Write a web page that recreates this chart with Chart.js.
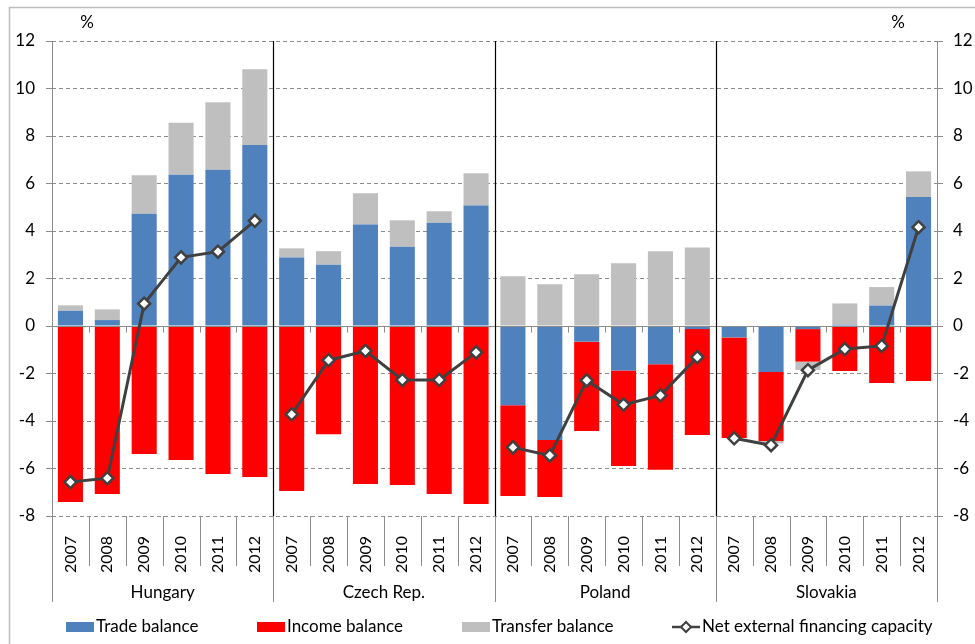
<!DOCTYPE html>
<html>
<head>
<meta charset="utf-8">
<script src="https://cdn.jsdelivr.net/npm/chart.js@4"></script>
<style>
  html, body { margin: 0; padding: 0; background: #ffffff; }
  #wrap { width: 975px; height: 644px; position: relative; }
</style>
</head>
<body>
<div id="wrap"><canvas id="chart"></canvas></div>
<script>
// Balance components, % of GDP
const countries = ['Hungary', 'Czech Rep.', 'Poland', 'Slovakia'];
const years = ['2007', '2008', '2009', '2010', '2011', '2012'];

const tradeBalance = [
  0.64, 0.25, 4.73, 6.37, 6.58, 7.62,
  2.88, 2.58, 4.27, 3.34, 4.35, 5.07,
  -3.34, -4.80, -0.66, -1.87, -1.61, -0.13,
  -0.48, -1.94, -0.13, 0.05, 0.86, 5.43
];
const incomeBalance = [
  -7.41, -7.07, -5.39, -5.64, -6.23, -6.36,
  -6.95, -4.56, -6.65, -6.69, -7.07, -7.49,
  -3.82, -2.40, -3.76, -4.02, -4.44, -4.46,
  -4.24, -2.90, -1.37, -1.89, -2.40, -2.32
];
const transferBalance = [
  0.23, 0.45, 1.62, 2.19, 2.84, 3.19,
  0.39, 0.57, 1.32, 1.11, 0.48, 1.36,
  2.09, 1.76, 2.18, 2.64, 3.15, 3.31,
  0.02, -0.10, -0.35, 0.90, 0.78, 1.08
];
const netCapacity = [
  -6.57, -6.41, 0.94, 2.89, 3.13, 4.43,
  -3.72, -1.44, -1.05, -2.27, -2.27, -1.11,
  -5.11, -5.45, -2.29, -3.31, -2.92, -1.31,
  -4.73, -5.02, -1.86, -0.97, -0.84, 4.16
];
const yTicks = [-8, -6, -4, -2, 0, 2, 4, 6, 8, 10, 12];

const seriesNames = ['Trade balance', 'Income balance', 'Transfer balance', 'Net external financing capacity'];
const seriesColors = ['#4F81BD', '#FF0000', '#BFBFBF', '#404040'];

const labels = [];
countries.forEach(() => years.forEach(y => labels.push(y)));

const FONT = 'Lato, "Open Sans", sans-serif';
const AXIS_GREY = '#8C8C8C';

// Axis lines, country separators, group labels, unit labels and legend
const decor = {
  id: 'decor',
  beforeDatasetDraw(chart, args) {
    if (args.meta.type !== 'line') return;
    const { ctx, scales: { x, y } } = chart;
    const y0 = Math.round(y.getPixelForValue(0)) + 0.5;
    const w = (x.right - x.left) / labels.length;
    ctx.save();
    ctx.strokeStyle = AXIS_GREY;
    ctx.lineWidth = 1;
    ctx.beginPath();
    ctx.moveTo(x.left, y0);
    ctx.lineTo(x.right, y0);
    for (let i = 0; i <= labels.length; i++) {
      const xb = Math.round(x.left + i * w) + 0.5;
      ctx.moveTo(xb, y0);
      ctx.lineTo(xb, y0 + 6);
    }
    ctx.stroke();
    ctx.restore();
  },
  afterDraw(chart) {
    const { ctx, chartArea, scales: { x, y } } = chart;
    const w = (x.right - x.left) / labels.length;
    const n = years.length;
    const axisBottom = x.bottom;
    ctx.save();

    // country separators inside the plot
    ctx.strokeStyle = '#000000';
    ctx.lineWidth = 1.2;
    ctx.beginPath();
    for (let g = 1; g < countries.length; g++) {
      const xb = Math.round(x.left + g * n * w) + 0.5;
      ctx.moveTo(xb, chartArea.top);
      ctx.lineTo(xb, chartArea.bottom);
    }
    ctx.stroke();

    // category box lines below the plot
    ctx.strokeStyle = AXIS_GREY;
    ctx.lineWidth = 1;
    ctx.beginPath();
    for (let i = 0; i <= labels.length; i++) {
      const xb = Math.round(x.left + i * w) + 0.5;
      const long = i % n === 0;
      ctx.moveTo(xb, chartArea.bottom);
      ctx.lineTo(xb, long ? axisBottom : chartArea.bottom + 50);
    }
    // vertical axis lines
    ctx.moveTo(Math.round(chartArea.left) + 0.5, chartArea.top);
    ctx.lineTo(Math.round(chartArea.left) + 0.5, axisBottom);
    ctx.moveTo(Math.round(chartArea.right) + 0.5, chartArea.top);
    ctx.lineTo(Math.round(chartArea.right) + 0.5, axisBottom);
    ctx.stroke();

    // country names
    ctx.fillStyle = '#000000';
    ctx.font = '17px ' + FONT;
    ctx.textAlign = 'center';
    ctx.textBaseline = 'middle';
    countries.forEach((c, g) => {
      const cx = x.left + (g * n + n / 2) * w;
      ctx.fillText(c, cx, chartArea.bottom + 77);
    });

    // unit labels
    ctx.fillText('%', chartArea.left + 35, chartArea.top - 18);
    ctx.fillText('%', chartArea.right - 39, chartArea.top - 18);

    // legend
    const ly = 627;
    const items = [
      { x: 66, type: 'box' },
      { x: 257, type: 'box' },
      { x: 462, type: 'box' },
      { x: 672, type: 'line' }
    ];
    ctx.textAlign = 'left';
    items.forEach((it, i) => {
      if (it.type === 'box') {
        ctx.fillStyle = seriesColors[i];
        ctx.fillRect(it.x, ly - 5, 28, 10);
      } else {
        ctx.strokeStyle = seriesColors[i];
        ctx.lineWidth = 2.5;
        ctx.beginPath();
        ctx.moveTo(it.x, ly);
        ctx.lineTo(it.x + 28, ly);
        ctx.stroke();
        ctx.fillStyle = '#ffffff';
        ctx.lineWidth = 2;
        ctx.beginPath();
        ctx.moveTo(it.x + 14, ly - 5);
        ctx.lineTo(it.x + 19, ly);
        ctx.lineTo(it.x + 14, ly + 5);
        ctx.lineTo(it.x + 9, ly);
        ctx.closePath();
        ctx.fill();
        ctx.stroke();
      }
      ctx.fillStyle = '#000000';
      ctx.fillText(seriesNames[i], it.x + 30, ly);
    });

    // outer frame
    ctx.strokeStyle = '#BDBDBD';
    ctx.lineWidth = 1.5;
    ctx.strokeRect(9.5, 7.5, 1200, 1200);
    ctx.restore();
  }
};

const barCommon = {
  type: 'bar',
  order: 1,
  barPercentage: 0.68,
  categoryPercentage: 1.0,
  borderWidth: 0,
  yAxisID: 'y',
  stack: 'bal'
};

// the line restarts for each country: no segment joins the last year of one
// country to the first year of the next
const groupBreak = ctx => (ctx.p0DataIndex % years.length === years.length - 1) ? 'rgba(0,0,0,0)' : undefined;

new Chart(document.getElementById('chart'), {
  data: {
    labels: labels,
    datasets: [
      {
        type: 'line',
        label: seriesNames[3],
        data: netCapacity,
        order: 0,
        borderColor: seriesColors[3],
        borderWidth: 3,
        segment: { borderColor: groupBreak },
        pointStyle: 'rectRot',
        pointRadius: 6,
        pointBorderWidth: 2.5,
        pointBackgroundColor: '#ffffff',
        pointBorderColor: seriesColors[3],
        tension: 0,
        yAxisID: 'y'
      },
      Object.assign({ label: seriesNames[0], data: tradeBalance, backgroundColor: seriesColors[0] }, barCommon),
      Object.assign({ label: seriesNames[1], data: incomeBalance, backgroundColor: seriesColors[1] }, barCommon),
      Object.assign({ label: seriesNames[2], data: transferBalance, backgroundColor: seriesColors[2] }, barCommon)
    ]
  },
  options: {
    responsive: true,
    maintainAspectRatio: false,
    animation: false,
    layout: { padding: { top: 41, bottom: 42, left: 0, right: 0 } },
    plugins: {
      legend: { display: false },
      tooltip: { enabled: false }
    },
    scales: {
      x: {
        stacked: true,
        offset: true,
        grid: { display: false },
        border: { display: false },
        ticks: {
          autoSkip: false,
          minRotation: 90,
          maxRotation: 90,
          padding: 12,
          color: '#000000',
          font: { family: FONT, size: 16 }
        },
        afterFit(scale) { scale.height = 86; }
      },
      y: {
        position: 'left',
        stacked: true,
        min: -8,
        max: 12,
        afterBuildTicks(scale) { scale.ticks = yTicks.map(v => ({ value: v })); },
        grid: {
          color: '#8C8C8C',
          lineWidth: 1,
          tickLength: 6,
          tickColor: AXIS_GREY,
          tickBorderDash: []
        },
        border: { display: false, dash: [4, 3] },
        ticks: {
          padding: 11,
          color: '#000000',
          font: { family: FONT, size: 17 }
        },
        afterFit(scale) { scale.width = 52; }
      },
      y2: {
        position: 'right',
        min: -8,
        max: 12,
        afterBuildTicks(scale) { scale.ticks = yTicks.map(v => ({ value: v })); },
        grid: {
          drawOnChartArea: false,
          tickLength: 6,
          tickColor: AXIS_GREY
        },
        border: { display: false },
        ticks: {
          padding: 10,
          color: '#000000',
          font: { family: FONT, size: 17 }
        },
        afterFit(scale) { scale.width = 38; }
      }
    }
  },
  plugins: [decor]
});
</script>
</body>
</html>
